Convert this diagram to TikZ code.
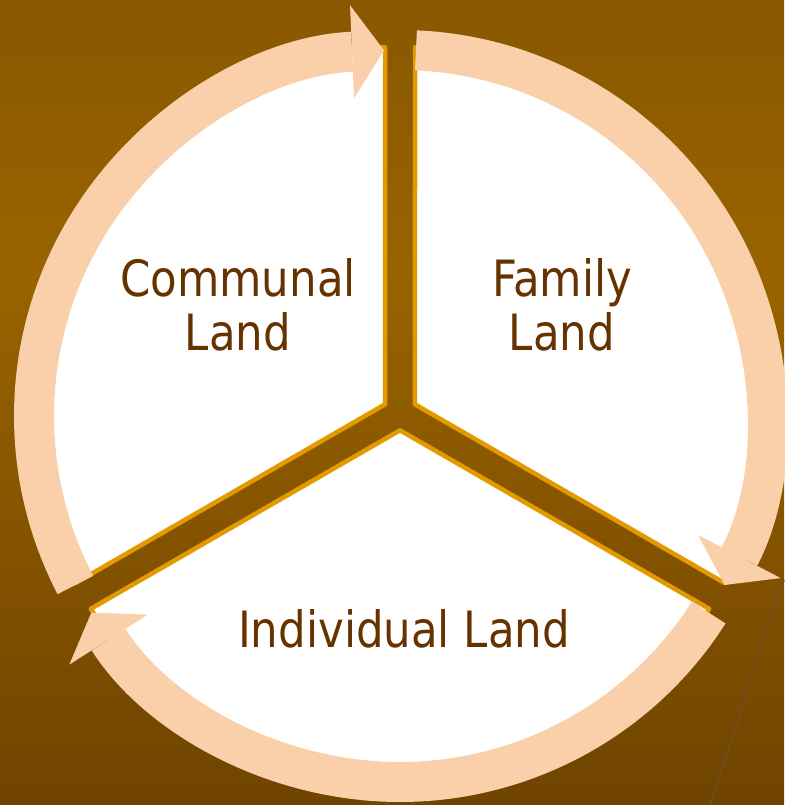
\documentclass[tikz,border=0pt]{standalone}
\usepackage{fontspec}
\newfontfamily\landfont[FakeStretch=0.87]{DejaVu Sans}
\usetikzlibrary{arrows.meta}
\definecolor{bgtop}{HTML}{885800}
\definecolor{bgmid}{HTML}{996300}
\definecolor{bgbot}{HTML}{704400}
\definecolor{peach}{HTML}{FAD0AB}
\definecolor{rimorange}{HTML}{E39A00}
\definecolor{landbrown}{HTML}{663300}
\definecolor{linebrown}{HTML}{6E4C2E}

\begin{document}
\begin{tikzpicture}[x=1pt, y=1pt,
    sector/.style={fill=white, draw=rimorange, line width=4.5pt, line join=round},
    cyclearrow/.style={draw=peach, line width=40pt, -{Triangle[width=93pt, length=32pt, line width=0pt]}},
    landlabel/.style={text=landbrown, inner sep=0pt, align=center, font=\landfont\fontsize{50}{53.3}\selectfont}]
    \useasboundingbox (0,0) rectangle (784,805);
    \fill[top color=bgtop, bottom color=bgmid] (0,535) rectangle (784,805);
    \fill[top color=bgmid, bottom color=bgbot] (0,0) rectangle (784,535.5);
    \draw[draw=linebrown, line width=1.5pt] (784,225) -- (710,0);
    \coordinate (S) at (400,392);
    \coordinate (O) at (400,389);
    % the three land sectors
    \begin{scope}[shift={(S)}]
      \draw[sector] (150:17.3) -- (92.35:366) arc[start angle=92.35, end angle=207.65, radius=366] -- cycle;
      \draw[sector] (30:17.3) -- (-27.65:366) arc[start angle=-27.65, end angle=87.65, radius=366] -- cycle;
      \draw[sector] (270:17.3) -- (212.35:366) arc[start angle=212.35, end angle=327.65, radius=366] -- cycle;
    \end{scope}
    \node[landlabel] (communal) at (238,500) {Communal\\Land};
    \node[landlabel] (family) at (562,500) {Family\\Land};
    \node[landlabel] (individual) at (404,176) {Individual Land};
    % arrows round the ring
    \begin{scope}[shift={(O)}]
      \coordinate (t1) at (207.5:366);
      \coordinate (t2) at (87.5:366);
      \coordinate (t3) at (-32.5:366);
      \draw[cyclearrow] (t1) arc[start angle=207.5, end angle=92.5, radius=366];
      \draw[cyclearrow] (t2) arc[start angle=87.5, end angle=-27.5, radius=366];
      \draw[cyclearrow] (t3) arc[start angle=-32.5, end angle=-147.5, radius=366];
    \end{scope}
\end{tikzpicture}
\end{document}
